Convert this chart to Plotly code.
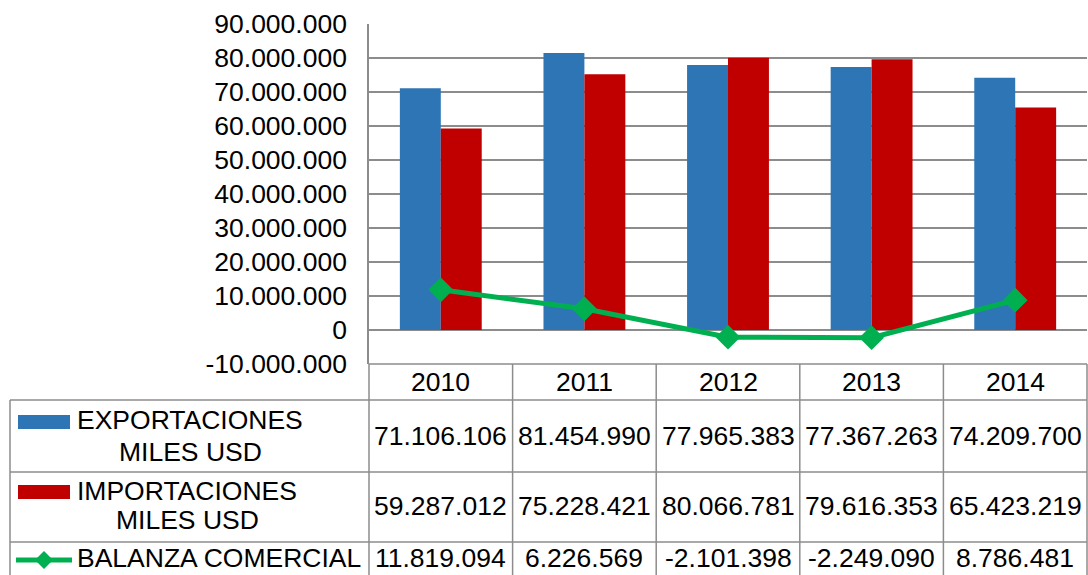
import plotly.graph_objects as go

# Trade data (thousands of USD)
years = ["2010", "2011", "2012", "2013", "2014"]
exportaciones = [71106106, 81454990, 77965383, 77367263, 74209700]
importaciones = [59287012, 75228421, 80066781, 79616353, 65423219]
balanza = [11819094, 6226569, -2101398, -2249090, 8786481]
y_ticks = [-10000000, 0, 10000000, 20000000, 30000000, 40000000,
           50000000, 60000000, 70000000, 80000000, 90000000]

series_labels = [["EXPORTACIONES", "MILES USD"],
                 ["IMPORTACIONES", "MILES USD"],
                 ["BALANZA COMERCIAL"]]

W, H = 1088, 575
FONT = "Liberation Sans, Arial, sans-serif"
FS = 26.5
GRID = "#8c8c8c"
BLUE = "#2E75B6"
RED = "#C00000"
GREEN = "#00B050"

# pixel layout of plot area and data table
PX_L, PX_R = 369, 1087
PX_T, PX_B = 24, 364
TBL_L = 10
ROW_Y = [364, 400, 472, 542, 600]


def px(x):
    return x / W


def py(y):
    return 1 - y / H


def fmt(v):
    return f"{v:,}".replace(",", ".")


fig = go.Figure()
fig.add_trace(go.Bar(x=years, y=exportaciones, name="EXPORTACIONES MILES USD",
                     marker=dict(color=BLUE, line=dict(width=0))))
fig.add_trace(go.Bar(x=years, y=importaciones, name="IMPORTACIONES MILES USD",
                     marker=dict(color=RED, line=dict(width=0))))
fig.add_trace(go.Scatter(x=years, y=balanza, name="BALANZA COMERCIAL", mode="lines+markers",
                         line=dict(color=GREEN, width=5),
                         marker=dict(symbol="diamond", size=19, color=GREEN)))

shapes = []
line_style = dict(color=GRID, width=1.5)

# table horizontal rules
shapes.append(dict(type="line", xref="paper", yref="paper", x0=px(PX_L), x1=px(PX_R),
                   y0=py(ROW_Y[0]), y1=py(ROW_Y[0]), line=line_style))
for y in ROW_Y[1:4]:
    shapes.append(dict(type="line", xref="paper", yref="paper", x0=px(TBL_L), x1=px(PX_R),
                       y0=py(y), y1=py(y), line=line_style))
# table vertical rules
col_w = (PX_R - PX_L) / len(years)
col_edges = [PX_L + i * col_w for i in range(len(years) + 1)]
for x in col_edges:
    shapes.append(dict(type="line", xref="paper", yref="paper", x0=px(x), x1=px(x),
                       y0=py(ROW_Y[0]), y1=py(ROW_Y[4]), line=line_style))
shapes.append(dict(type="line", xref="paper", yref="paper", x0=px(TBL_L), x1=px(TBL_L),
                   y0=py(ROW_Y[1]), y1=py(ROW_Y[4]), line=line_style))

# legend keys in the table
shapes.append(dict(type="rect", xref="paper", yref="paper", x0=px(18), x1=px(70),
                   y0=py(429), y1=py(415), fillcolor=BLUE, line=dict(width=0)))
shapes.append(dict(type="rect", xref="paper", yref="paper", x0=px(18), x1=px(70),
                   y0=py(499), y1=py(485), fillcolor=RED, line=dict(width=0)))
shapes.append(dict(type="line", xref="paper", yref="paper", x0=px(16), x1=px(72),
                   y0=py(560), y1=py(560), line=dict(color=GREEN, width=5)))
dx, dy = 9, 9
cx, cy = 44, 560
shapes.append(dict(type="path", xref="paper", yref="paper",
                   path=f"M {px(cx - dx)},{py(cy)} L {px(cx)},{py(cy - dy)} L {px(cx + dx)},{py(cy)} L {px(cx)},{py(cy + dy)} Z",
                   fillcolor=GREEN, line=dict(width=0)))

annotations = []
font = dict(family=FONT, size=FS, color="#000000")
col_centers = [(col_edges[i] + col_edges[i + 1]) / 2 for i in range(len(years))]
for xc, yr in zip(col_centers, years):
    annotations.append(dict(x=px(xc), y=py(382), xref="paper", yref="paper", text=yr,
                            showarrow=False, font=font, xanchor="center", yanchor="middle"))
row_centers = [436, 506, 558]
for yc, vals in zip(row_centers, [exportaciones, importaciones, balanza]):
    for xc, v in zip(col_centers, vals):
        annotations.append(dict(x=px(xc), y=py(yc), xref="paper", yref="paper", text=fmt(v),
                                showarrow=False, font=font, xanchor="center", yanchor="middle"))
# series labels, one annotation per text line
label_x = [190, 187, 219]
label_line_y = [[420, 452], [491, 520], [558]]
for xc, ys, lines in zip(label_x, label_line_y, series_labels):
    for yc, txt in zip(ys, lines):
        annotations.append(dict(x=px(xc), y=py(yc), xref="paper", yref="paper", text=txt,
                                showarrow=False, font=font, xanchor="center", yanchor="middle"))

fig.update_layout(
    width=W, height=H,
    margin=dict(l=0, r=0, t=0, b=0, autoexpand=False),
    paper_bgcolor="white", plot_bgcolor="white",
    barmode="group", bargap=0.43, bargroupgap=0,
    showlegend=False,
    font=font,
    xaxis=dict(domain=[px(PX_L), px(PX_R)], range=[-0.5, 4.5], showticklabels=False,
               showgrid=False, zeroline=False, showline=False, fixedrange=True,
               automargin=False),
    yaxis=dict(domain=[py(PX_B), py(PX_T)], range=[-10e6, 90e6],
               tickvals=y_ticks, ticktext=[fmt(v) for v in y_ticks],
               showgrid=True, gridcolor=GRID, gridwidth=1.5,
               zeroline=True, zerolinecolor=GRID, zerolinewidth=1.5,
               showline=True, linecolor=GRID, linewidth=1.5,
               ticks="", ticklabelstandoff=15, tickfont=font, automargin=False),
    shapes=shapes,
    annotations=annotations,
)

fig.write_html("out.html")
